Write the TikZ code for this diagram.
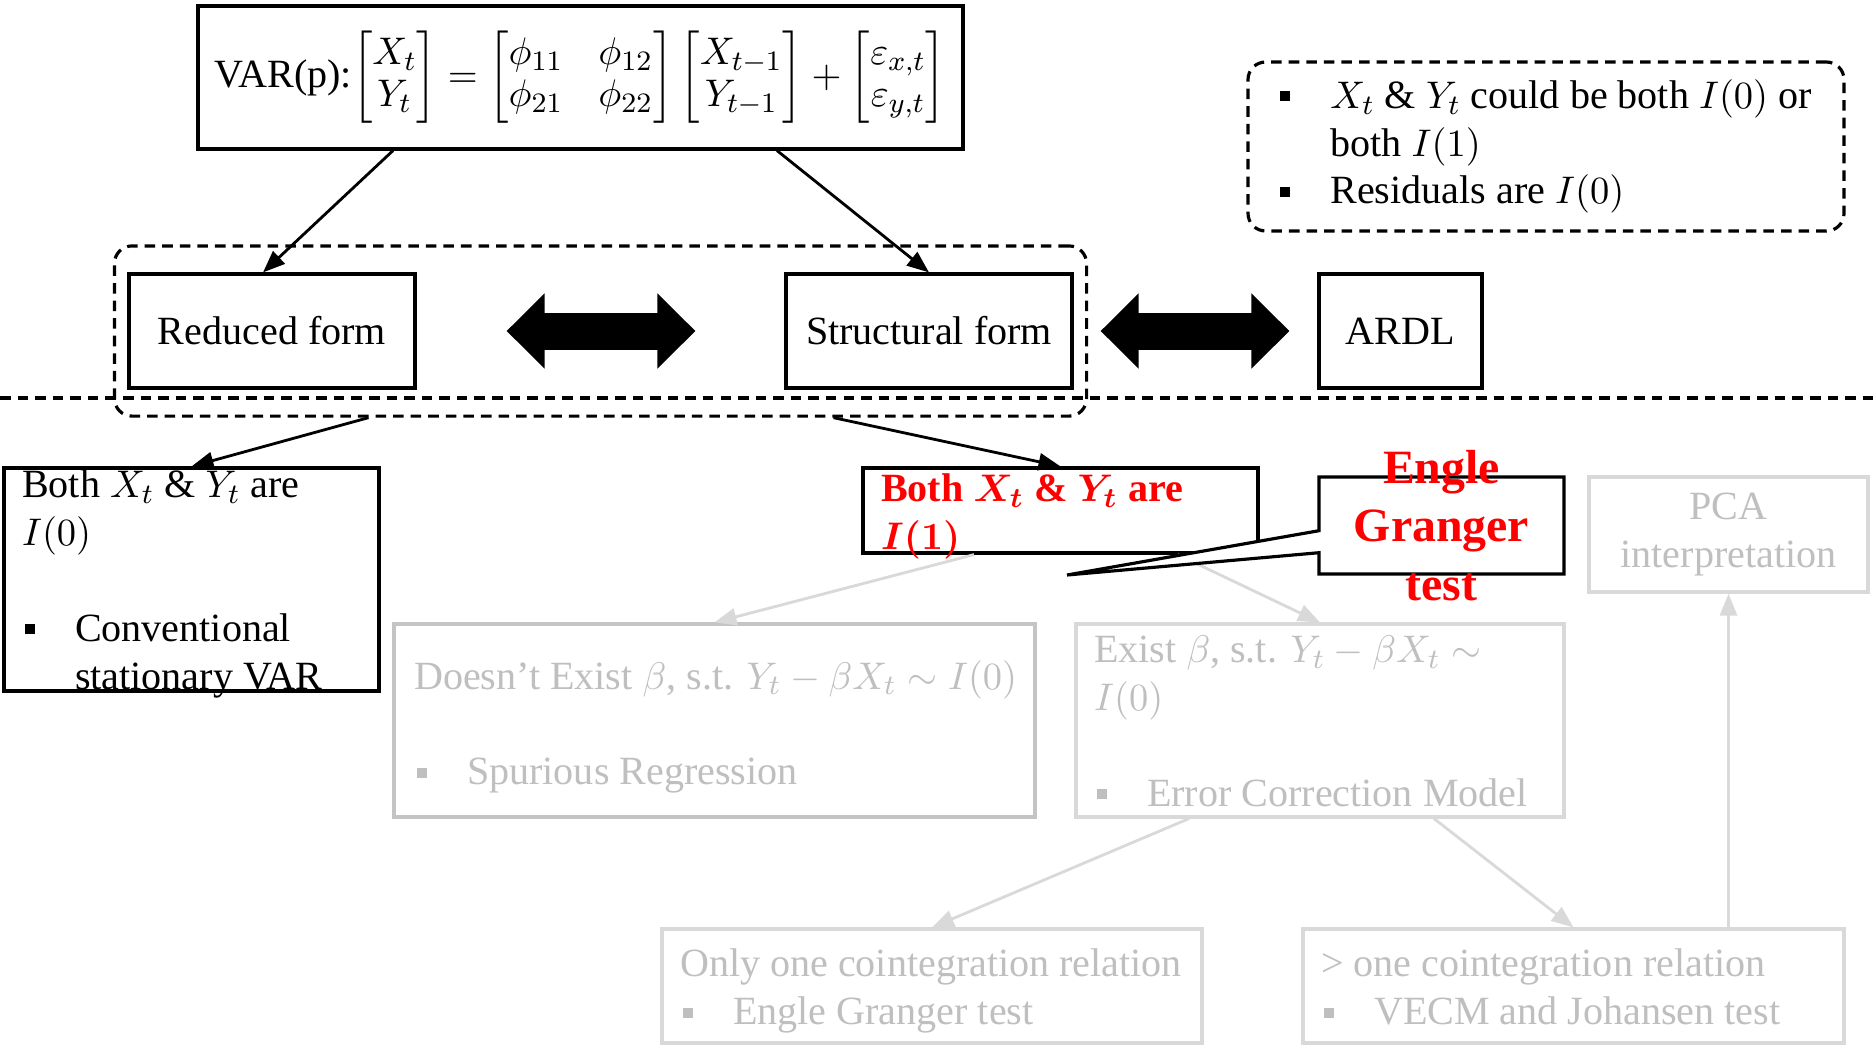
\documentclass[tikz,border=0pt]{standalone}
\usepackage{amsmath}
\usepackage{fontspec}
\setmainfont{Liberation Serif}
\usetikzlibrary{arrows.meta, positioning, fit, backgrounds, shapes.callouts}

\definecolor{fadetxt}{HTML}{BFBFBF}
\definecolor{fadebox}{HTML}{C4C4C4}
\definecolor{fadeline}{HTML}{D9D9D9}
\definecolor{egred}{HTML}{FF0000}

\newcommand{\sqbul}{\rule[2pt]{2.8pt}{2.8pt}}
\newcommand{\bitem}[1]{\makebox[0.53cm][l]{\hspace{0.03cm}\sqbul}#1}

\begin{document}
\begin{tikzpicture}[
    font=\fontsize{11.4}{13.6}\selectfont,
    box/.style     ={draw, line width=0.9pt, inner sep=0pt},
    fadedbox/.style={draw=fadeline, line width=0.9pt, inner sep=0pt, text=fadetxt},
    txt/.style     ={anchor=north west, align=left, inner sep=0pt},
    fadedtxt/.style={txt, text=fadetxt},
    grp/.style     ={draw, dash pattern=on 3pt off 2pt, line width=0.9pt,
                     rounded corners=5pt},
    flow/.style    ={-{Triangle[length=2.2mm,width=1.7mm]}, line width=0.8pt},
    fadeflow/.style={flow, color=fadeline},
    equiv/.style   ={line width=3.7mm,
                     {Triangle[length=3.8mm,width=7.3mm]}-{Triangle[length=3.8mm,width=7.3mm]}}
  ]

  \fill[white] (0,0) rectangle (18.74,-10.53);
  \useasboundingbox (0,0) rectangle (18.74,-10.53);

  % ---- Row 1: the VAR(p) model and the assumptions --------------------
  \node[box, minimum width=7.65cm, minimum height=1.43cm] (var) at (5.805,-0.775)
    {\renewcommand{\arraystretch}{0.88}%
     VAR(p):$\begin{bmatrix}X_t\\Y_t\end{bmatrix}
      =\begin{bmatrix}\phi_{11}&\phi_{12}\\\phi_{21}&\phi_{22}\end{bmatrix}
      \begin{bmatrix}X_{t-1}\\Y_{t-1}\end{bmatrix}
      +\begin{bmatrix}\varepsilon_{x,t}\\\varepsilon_{y,t}\end{bmatrix}$};

  \node[grp, align=left, inner sep=0pt, minimum width=5.96cm, minimum height=1.69cm]
    (note) at (15.46,-1.465)
    {\makebox[0.5cm][l]{\sqbul}$X_t$ \& $Y_t$ could be both $I(0)$ or\\
     \hspace*{0.5cm}both $I(1)$\\
     \makebox[0.5cm][l]{\sqbul}Residuals are $I(0)$};

  % ---- Row 2: equivalent forms ----------------------------------------
  \node[box, minimum width=2.86cm, minimum height=1.14cm] (reduced) at (2.72,-3.31)
    {Reduced form};
  \node[box, minimum width=2.86cm, minimum height=1.14cm] (structural) at (9.29,-3.31)
    {Structural form};
  \node[box, minimum width=1.63cm, minimum height=1.14cm] (ardl) at (14.005,-3.31)
    {ARDL};
  \node[grp, fit=(reduced)(structural), inner xsep=0.13cm, inner ysep=0.265cm] (forms) {};

  \draw[equiv, shorten <=0.9cm, shorten >=0.89cm] (reduced) -- (structural);
  \draw[equiv, shorten <=0.27cm, shorten >=0.28cm] (structural) -- (ardl);

  \draw[flow] ([xshift=-1.875cm]var.south) -- ([xshift=-0.09cm]reduced.north);
  \draw[flow] ([xshift=1.965cm]var.south) -- (structural.north);

  % dashed separator
  \draw[dash pattern=on 3pt off 2pt, line width=0.9pt] (0,-3.98) -- (18.74,-3.98);

  % ---- Row 3: order of integration ------------------------------------
  \node[box, minimum width=3.75cm, minimum height=2.23cm] (i0) at (1.915,-5.795) {};
  \node[txt] (i0txt) at ([xshift=0.19cm,yshift=-0.03cm]i0.north west)
    {Both $X_t$ \& $Y_t$ are\\
     $I(0)$\\
     \mbox{}\\
     \bitem{Conventional}\\
     \hspace*{0.53cm}stationary VAR};

  \node[box, minimum width=3.95cm, minimum height=0.85cm] (i1) at (10.605,-5.105) {};
  \node[txt, text=egred, font=\fontsize{11.4}{13.6}\selectfont\bfseries\boldmath]
    (i1txt) at ([xshift=0.19cm,yshift=-0.07cm]i1.north west)
    {Both $X_t$ \& $Y_t$ are\\$I(1)$};

  \node[fadedbox, align=center, minimum width=2.79cm, minimum height=1.15cm]
    (pca) at (17.285,-5.345) {PCA\\interpretation};

  \draw[flow] ([xshift=-2.32cm]forms.south) -- (i0.north);
  \draw[flow] ([xshift=2.33cm]forms.south) -- (i1.north);

  % ---- Row 4: cointegration -------------------------------------------
  \node[fadedbox, draw=fadebox, minimum width=6.41cm, minimum height=1.93cm]
    (noexist) at (7.145,-7.205) {};
  \node[fadedtxt] (noexisttxt) at ([xshift=0.21cm,yshift=-0.37cm]noexist.north west)
    {Doesn't Exist $\beta$, s.t. $Y_t-\beta X_t\sim I(0)$\\
     \mbox{}\\
     \bitem{Spurious Regression}};

  \node[fadedbox, minimum width=4.88cm, minimum height=1.93cm] (exist) at (13.20,-7.205) {};
  \node[fadedtxt] (existtxt) at ([xshift=0.19cm,yshift=-0.13cm]exist.north west)
    {Exist $\beta$, s.t. $Y_t-\beta X_t\sim$\\
     $I(0)$\\
     \mbox{}\\
     \bitem{Error Correction Model}};

  \draw[fadeflow] ([xshift=-0.865cm]i1.south) -- (noexist.north);
  \draw[fadeflow] ([xshift=1.17cm]i1.south) -- (exist.north);

  % ---- Row 5: number of relations -------------------------------------
  \node[fadedbox, minimum width=5.40cm, minimum height=1.14cm] (onlyone) at (9.32,-9.86) {};
  \node[fadedtxt] (onlyonetxt) at ([xshift=0.19cm,yshift=-0.21cm]onlyone.north west)
    {Only one cointegration relation\\
     \bitem{Engle Granger test}};

  \node[fadedbox, minimum width=5.41cm, minimum height=1.14cm] (more) at (15.735,-9.86) {};
  \node[fadedtxt] (moretxt) at ([xshift=0.19cm,yshift=-0.21cm]more.north west)
    {\textgreater{} one cointegration relation\\
     \bitem{VECM and Johansen test}};

  \draw[fadeflow] ([xshift=-1.31cm]exist.south) -- (onlyone.north);
  \draw[fadeflow] ([xshift=1.14cm]exist.south) -- (more.north);
  \draw[fadeflow] (more.north -| pca.south) -- (pca.south);

  % ---- callout on top --------------------------------------------------
  \coordinate (egtip) at (10.67,-5.75);
  \node[rectangle callout, draw, fill=white, line width=0.9pt, inner sep=0pt,
        minimum width=2.45cm, minimum height=0.97cm,
        callout absolute pointer={(egtip)}, callout pointer width=0.22cm]
    (eg) at (14.415,-5.255) {};
  \node[text=egred, align=center, inner sep=0pt,
        font=\fontsize{13.6}{16.6}\selectfont\bfseries] (egtxt) at (eg.center)
    {Engle\\Granger\\test};

\end{tikzpicture}
\end{document}
